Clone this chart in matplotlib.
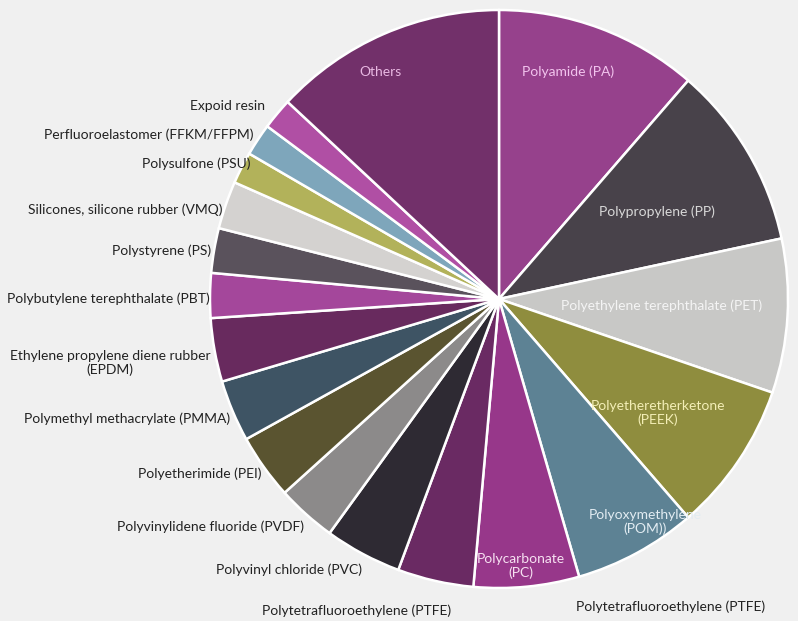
import matplotlib.pyplot as plt

# slice sizes (degrees of the full circle), clockwise from 12 o'clock
names = ["Polyamide (PA)", "Polypropylene (PP)", "Polyethylene terephthalate (PET)",
         "Polyetheretherketone\n(PEEK)", "Polyoxymethylene\n(POM))", "Polycarbonate\n(PC)",
         "Polytetrafluoroethylene (PTFE)", "Polyvinyl chloride (PVC)",
         "Polyvinylidene fluoride (PVDF)", "Polyetherimide (PEI)",
         "Polymethyl methacrylate (PMMA)", "Ethylene propylene diene rubber\n(EPDM)",
         "Polybutylene terephthalate (PBT)", "Polystyrene (PS)",
         "Silicones, silicone rubber (VMQ)", "Polysulfone (PSU)",
         "Perfluoroelastomer (FFKM/FFPM)", "Expoid resin", "Others"]
sizes = [40.9, 37.0, 31.0, 30.2, 24.8, 21.2, 15.3, 15.5, 12.0, 13.1,
         12.4, 12.8, 9.0, 9.0, 9.6, 6.4, 6.5, 6.3, 47.0]
colors = ["#96418c", "#48424a", "#c8c8c6", "#8f8d3e", "#5d8294", "#97378a",
          "#6a2a63", "#2e2a33", "#8c8a8a", "#5a5430", "#3e5464", "#682a5e",
          "#a4479b", "#5a525c", "#d4d2d0", "#b2b25a", "#7ea6bb", "#b04fa4",
          "#72306a"]

W, H = 798, 621
bg = "#f0f0f0"
fig = plt.figure(figsize=(W / 100, H / 100), dpi=100, facecolor=bg)
ax = fig.add_axes([0, 0, 1, 1])
ax.set_facecolor(bg)

cx, cy, R = 499, H - 299, 289
ax.pie(sizes, colors=colors, startangle=90, counterclock=False,
       center=(cx, cy), radius=R,
       wedgeprops=dict(edgecolor="white", linewidth=1.8))
ax.set_aspect("equal")
ax.set_xlim(0, W)
ax.set_ylim(0, H)
ax.axis("off")

font = "Lato"
fs = 10

# labels inside the wedges
inside = [
    ("Others", 380, 72, "#e8b8e2"),
    (names[0], 568, 72, "#f2c4ee"),
    (names[1], 657, 212, "#d8d8d8"),
    (names[2], 662, 306, "#f4f4f4"),
    (names[3], 658, 413, "#f3eeb6"),
    (names[4], 645, 522, "#e2ecf2"),
    (names[5], 521, 566, "#f6e0f1"),
]
for txt, x, y, c in inside:
    ax.text(x, H - y, txt, ha="center", va="center", color=c,
            fontsize=fs, family=font, linespacing=1.1)

# labels outside, right aligned against the pie
outside = [
    (names[17], 265, 106, "right"),
    (names[16], 253, 135, "right"),
    (names[15], 250, 164, "right"),
    (names[14], 222, 210, "right"),
    (names[13], 211, 251, "right"),
    (names[12], 210, 299, "right"),
    (names[11], 110, 363, "center"),
    (names[10], 230, 419, "right"),
    (names[9], 261, 474, "right"),
    (names[8], 304, 527, "right"),
    (names[7], 362, 570, "right"),
    (names[6], 357, 611, "center"),
    (names[6], 671, 607, "center"),
]
for txt, x, y, ha in outside:
    ax.text(x, H - y, txt, ha=ha, va="center", color="#222222",
            fontsize=fs, family=font, linespacing=1.1)

fig.savefig("out.png", dpi=100, facecolor=fig.get_facecolor())
